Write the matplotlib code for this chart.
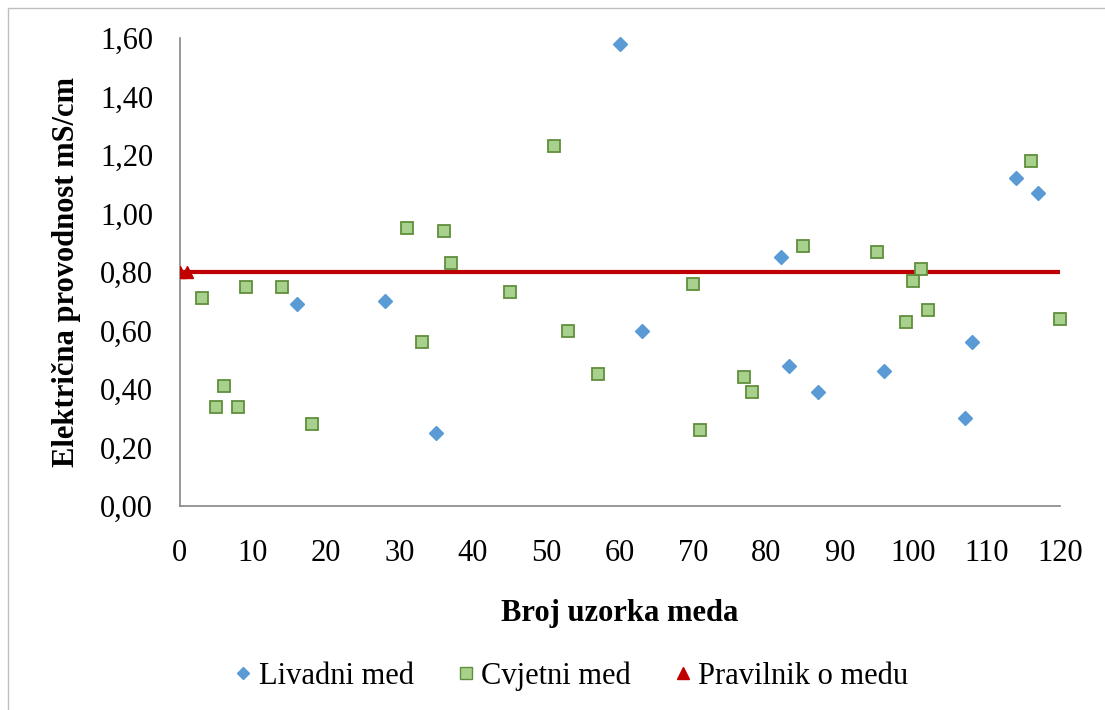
import matplotlib
matplotlib.use("Agg")
import matplotlib.pyplot as plt
from matplotlib.ticker import FuncFormatter, MultipleLocator
from matplotlib.patches import Rectangle

plt.rcParams['font.family'] = ['Liberation Serif', 'DejaVu Serif']

# Livadni med (blue diamonds)
livadni_x = [16, 28, 35, 60, 63, 82, 83, 87, 96, 107, 108, 114, 117]
livadni_y = [0.69, 0.70, 0.25, 1.58, 0.60, 0.85, 0.48, 0.39, 0.46, 0.30, 0.56, 1.12, 1.07]

# Cvjetni med (green squares)
cvjetni_x = [3, 5, 6, 8, 9, 14, 18, 31, 33, 36, 37, 45, 51, 53, 57,
             70, 71, 77, 78, 85, 95, 99, 100, 101, 102, 116, 120]
cvjetni_y = [0.71, 0.34, 0.41, 0.34, 0.75, 0.75, 0.28, 0.95, 0.56, 0.94, 0.83, 0.73, 1.23, 0.60, 0.45,
             0.76, 0.26, 0.44, 0.39, 0.89, 0.87, 0.63, 0.77, 0.81, 0.67, 1.18, 0.64]

# Pravilnik o medu (limit line)
pravilnik_x = [0, 120]
pravilnik_y = [0.80, 0.80]
pravilnik_mark_x = [0, 1]
pravilnik_mark_y = [0.80, 0.80]

fig = plt.figure(figsize=(11.05, 7.1), dpi=100)
ax = fig.add_axes([179.5 / 1105, 1 - 506 / 710, (1060 - 179.5) / 1105, (506 - 38) / 710])

# outer chart border
fig.patches.append(Rectangle((8 / 1105, -0.05), 1.2, 1 - 8 / 710 + 0.05, transform=fig.transFigure,
                             fill=False, edgecolor='#bfbfbf', linewidth=1.0))

ax.plot(pravilnik_x, pravilnik_y, color='#c00000', linewidth=3, zorder=2)
ax.plot(pravilnik_mark_x, pravilnik_mark_y, linestyle='none', marker='^', ms=8,
        color='#c00000', zorder=3)

ax.plot(livadni_x, livadni_y, linestyle='none', marker='D', ms=7.3, color='#5b9bd5',
        markeredgecolor='#5b9bd5', zorder=4, clip_on=False)
ax.plot(cvjetni_x, cvjetni_y, linestyle='none', marker='s', ms=9.3, markerfacecolor='#a9d18e',
        markeredgecolor='#5f8f3d', markeredgewidth=1.3, zorder=4, clip_on=False)

ax.set_xlim(0, 120)
ax.set_ylim(0, 1.6)
ax.xaxis.set_major_locator(MultipleLocator(10))
ax.yaxis.set_major_locator(MultipleLocator(0.2))
ax.yaxis.set_major_formatter(FuncFormatter(lambda v, p: f"{v:.2f}".replace('.', ',')))

for s in ['top', 'right']:
    ax.spines[s].set_visible(False)
for s in ['left', 'bottom']:
    ax.spines[s].set_color('#868686')
    ax.spines[s].set_linewidth(1.2)

ax.tick_params(axis='both', length=0, labelsize=22, colors='black')
ax.tick_params(axis='y', pad=19)
ax.tick_params(axis='x', pad=24)

ax.set_xlabel('Broj uzorka meda', fontsize=22, fontweight='bold', labelpad=22)
ax.set_ylabel('Električna provodnost mS/cm', fontsize=22, fontweight='bold', labelpad=14)

# legend below plot
h1, = ax.plot([], [], linestyle='none', marker='D', ms=6, color='#5b9bd5')
h2, = ax.plot([], [], linestyle='none', marker='s', ms=8, markerfacecolor='#a9d18e',
              markeredgecolor='#5f8f3d', markeredgewidth=1.0)
h3, = ax.plot([], [], linestyle='none', marker='^', ms=8, color='#c00000')
fig.legend([h1, h2, h3], ['Livadni med', 'Cvjetni med', 'Pravilnik o medu'],
           loc='center', bbox_to_anchor=(568 / 1105, 1 - 676 / 710), ncol=3, frameon=False,
           fontsize=22, handletextpad=0.0, columnspacing=1.2, handlelength=1.0)

fig.savefig('out.png', dpi=100)
